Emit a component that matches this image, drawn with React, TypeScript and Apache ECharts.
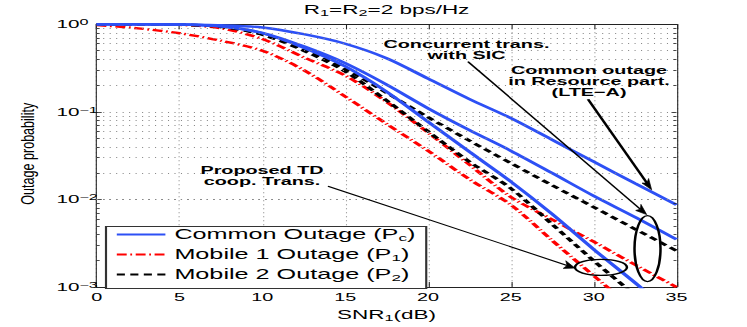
import React, { useEffect, useRef } from 'react';
import * as echarts from 'echarts';

// horizontal stretch of the original figure
const S = 1.8;
const W = 747 / S;
const H = 327;
const FONT = "'Liberation Sans', Arial, Helvetica, sans-serif";

// ---------- data ----------
const snr = [0, 2.5, 5, 7.5, 10, 12.5, 15, 17.5, 20, 22.5, 25, 27.5, 30, 32.5, 35];
const commonResourcePart = [1, 0.999, 0.995, 0.975, 0.92, 0.77, 0.6, 0.41, 0.24, 0.14, 0.085, 0.048, 0.027, 0.0153, 0.0087];
const commonSIC = [1, 1, 0.995, 0.95, 0.8, 0.56, 0.36, 0.205, 0.11, 0.062, 0.036, 0.02, 0.011, 0.0063, 0.0035];
const commonTD = [1, 1, 0.995, 0.95, 0.79, 0.54, 0.33, 0.17, 0.077, 0.035, 0.016, 0.0068, 0.0027, 0.00112, 0.00045];
const mobile1SIC = [1, 0.998, 0.985, 0.9, 0.68, 0.42, 0.26, 0.13, 0.058, 0.025, 0.0107, 0.0059, 0.0033, 0.0018, 0.001];
const mobile1TD = [0.98, 0.9, 0.79, 0.65, 0.5, 0.3, 0.15, 0.073, 0.036, 0.017, 0.0087, 0.0034, 0.00135, 0.00054, 0.0002];
const mobile2SIC = [1, 1, 0.99, 0.94, 0.77, 0.52, 0.31, 0.165, 0.087, 0.047, 0.026, 0.0145, 0.0082, 0.0046, 0.0026];
const mobile2TD = [1, 1, 0.99, 0.94, 0.76, 0.5, 0.29, 0.135, 0.06, 0.027, 0.0134, 0.0052, 0.002, 0.0008, 0.0003];

const legendNames = ['Common Outage (Pc)', 'Mobile 1 Outage (P1)', 'Mobile 2 Outage (P2)'];
const decades = [0.001, 0.01, 0.1];
const minorMultipliers = [2, 3, 4, 5, 6, 7, 8, 9];

// annotations (anchored in data space: [SNR dB, probability])
const annotationTexts = [
  { lines: ['Concurrent trans.', 'with SIC'], at: [22.32, 0.519] },
  { lines: ['Common outage', 'in Resource part.', '(LTE\u2212A)'], at: [29.72, 0.223] },
  { lines: ['Proposed TD', 'coop. Trans.'], at: [9.98, 0.0186] },
];
const annotationArrows = [
  { from: [22.41, 0.375], to: [33.2, 0.00673], width: 1.1 },
  { from: [29.66, 0.1397], to: [33.5, 0.0129], width: 1.6 },
  { from: [13.96, 0.01418], to: [28.87, 0.00165], width: 1.0 },
];
const annotationEllipses = [
  { at: [33.25, 0.00275], rx: 13, ry: 33 },
  { at: [30.44, 0.00168], rx: 26, ry: 8 },
];

// ---------- styles ----------
const BLUE = '#2d50f5';
const RED = '#ff0000';
const BLACK = '#000000';
const DASH: number[] = [4.5, 3];
const DASHDOT: number[] = [5.5, 2, 1, 2];

const GL = 96.7 / S;
const GR = 676.5 / S;
const GT = 24.3;
const GB = 290;

function mk(name: string, data: number[], color: string, type: any, width: number) {
  return {
    type: 'line',
    name,
    data: snr.map((x, i) => [x, data[i]]),
    showSymbol: false,
    symbol: 'none',
    smooth: 0.3,
    clip: true,
    lineStyle: { color, width, type },
    itemStyle: { color },
  };
}

function legendFormatter(name: string) {
  const m = name.match(/^(.*\(P)(.)\)$/);
  if (!m) return name;
  return `{t|${m[1]}}{s|${m[2]}}{t|)}`;
}

function buildMarkLines() {
  const data: any[] = [];
  const gridStyle = { type: [0.6, 3], color: '#8a8a8a', width: 0.8 };
  const tickStyle = { type: 'solid', color: '#222', width: 0.8 };
  decades.forEach((d) => {
    minorMultipliers.forEach((k) => {
      const v = d * k;
      data.push({ yAxis: v, lineStyle: gridStyle });
      data.push([{ coord: [0, v], lineStyle: tickStyle }, { coord: [0.18, v] }]);
      data.push([{ coord: [34.82, v], lineStyle: tickStyle }, { coord: [35, v] }]);
    });
  });
  return {
    silent: true,
    symbol: ['none', 'none'],
    label: { show: false },
    emphasis: { disabled: true },
    animation: false,
    data,
  };
}

function buildOption() {
  const s1: any = mk(legendNames[1], mobile1TD, RED, DASHDOT, 2.4);
  s1.markLine = buildMarkLines();
  return {
    animation: false,
    textStyle: { fontFamily: FONT },
    grid: { left: GL, right: W - GR, top: GT, bottom: H - GB, containLabel: false },
    legend: {
      data: legendNames,
      orient: 'vertical',
      left: 106 / S,
      top: 226.5,
      itemWidth: 27,
      itemHeight: 14,
      itemGap: 5,
      padding: [1, 6, 6, 5],
      backgroundColor: '#fff',
      borderColor: '#333',
      borderWidth: 1.2,
      borderRadius: 0,
      selectedMode: false,
      itemStyle: { opacity: 0 },
      formatter: legendFormatter,
      textStyle: {
        color: '#000',
        fontSize: 14,
        fontFamily: FONT,
        rich: {
          t: { fontSize: 14, lineHeight: 16, fontFamily: FONT, color: '#000' },
          s: { fontSize: 9.5, lineHeight: 8, verticalAlign: 'bottom', fontFamily: FONT, color: '#000' },
        },
      },
    },
    xAxis: [
      {
        type: 'value',
        min: 0,
        max: 35,
        interval: 5,
        position: 'bottom',
        name: '{a|SNR}{s|1}{a|(dB)}',
        nameLocation: 'middle',
        nameGap: 14,
        nameTextStyle: {
          rich: {
            a: { fontSize: 12.5, lineHeight: 15, color: '#000', fontFamily: FONT },
            s: { fontSize: 9, lineHeight: 7, verticalAlign: 'bottom', color: '#000', fontFamily: FONT },
          },
        },
        axisLine: { show: true, onZero: false, lineStyle: { color: '#222', width: 1 } },
        axisTick: { show: true, inside: true, length: 5, lineStyle: { color: '#222', width: 0.6 } },
        axisLabel: { show: true, margin: 5, fontSize: 11, color: '#000', fontFamily: FONT },
        splitLine: { show: true, lineStyle: { type: [1, 3], color: '#8a8a8a', width: 0.6 } },
      },
      {
        type: 'value',
        min: 0,
        max: 35,
        interval: 5,
        position: 'top',
        axisLine: { show: true, onZero: false, lineStyle: { color: '#222', width: 1 } },
        axisTick: { show: true, inside: true, length: 5, lineStyle: { color: '#222', width: 0.6 } },
        axisLabel: { show: false },
        splitLine: { show: false },
      },
    ],
    yAxis: [
      {
        type: 'log',
        logBase: 10,
        min: 0.001,
        max: 1,
        position: 'left',
        axisLine: { show: true, onZero: false, lineStyle: { color: '#222', width: 0.6 } },
        axisTick: { show: true, inside: true, length: 2.8, lineStyle: { color: '#222', width: 0.8 } },
        axisLabel: {
          show: true,
          align: 'left',
          margin: 22.4,
          formatter: (v: number) => {
            const e = Math.round(Math.log10(v));
            const es = e === 0 ? '0' : '\u2212' + String(-e);
            return `{b|10}{e|${es}}`;
          },
          rich: {
            b: { fontSize: 11.5, lineHeight: 14, color: '#000', fontFamily: FONT },
            e: { fontSize: 9, lineHeight: 7.4, verticalAlign: 'top', color: '#000', fontFamily: FONT },
          },
        },
        splitLine: { show: true, lineStyle: { type: [0.6, 3], color: '#8a8a8a', width: 0.8 } },
      },
      {
        type: 'log',
        logBase: 10,
        min: 0.001,
        max: 1,
        position: 'right',
        axisLine: { show: true, onZero: false, lineStyle: { color: '#222', width: 0.6 } },
        axisTick: { show: true, inside: true, length: 2.8, lineStyle: { color: '#222', width: 0.8 } },
        axisLabel: { show: false },
        splitLine: { show: false },
      },
    ],
    series: [
      s1,
      mk(legendNames[1], mobile1SIC, RED, DASHDOT, 2.4),
      mk(legendNames[2], mobile2TD, BLACK, DASH, 2.5),
      mk(legendNames[2], mobile2SIC, BLACK, DASH, 2.5),
      mk(legendNames[0], commonTD, BLUE, 'solid', 2.4),
      mk(legendNames[0], commonSIC, BLUE, 'solid', 2.4),
      mk(legendNames[0], commonResourcePart, BLUE, 'solid', 2.4),
    ],
  };
}

export default function App() {
  const ref = useRef<HTMLDivElement>(null);
  useEffect(() => {
    if (!ref.current) return;
    const chart = echarts.init(ref.current, null, { renderer: 'svg' });
    chart.setOption(buildOption() as any);

    const P = (pt: number[]) => chart.convertToPixel({ xAxisIndex: 0, yAxisIndex: 0 }, pt) as number[];
    const elements: any[] = [];

    // title
    const tl = P([17.5, 1]);
    elements.push({
      type: 'text',
      x: tl[0],
      y: 9.5,
      style: {
        text: '{a|R}{s|1}{a|=R}{s|2}{a|=2 bps/Hz}',
        align: 'center',
        verticalAlign: 'middle',
        rich: {
          a: { fontSize: 12.5, lineHeight: 15, fill: '#000', fontFamily: FONT },
          s: { fontSize: 9, lineHeight: 7, verticalAlign: 'bottom', fill: '#000', fontFamily: FONT },
        },
      },
    });

    // y axis name (counter-scaled so that the stretch does not widen its glyphs too much)
    const ym = P([0, 0.0316]);
    elements.push({
      type: 'text',
      x: 27.5 / S,
      y: ym[1] - 2,
      rotation: Math.PI / 2,
      scaleX: 0.93,
      scaleY: 1.3 / S,
      style: {
        text: 'Outage probability',
        fontSize: 13.5,
        fontFamily: FONT,
        fill: '#000',
        align: 'center',
        verticalAlign: 'middle',
      },
    });

    annotationTexts.forEach((a) => {
      const p = P(a.at);
      elements.push({
        type: 'text',
        x: p[0],
        y: p[1],
        z: 10,
        style: {
          text: a.lines.join('\n'),
          fontSize: 11,
          fontWeight: 'bold',
          fontFamily: FONT,
          fill: '#000',
          align: 'center',
          verticalAlign: 'middle',
          lineHeight: 11,
        },
      });
    });

    annotationArrows.forEach((ar) => {
      const a0 = P(ar.from);
      const b0 = P(ar.to);
      const a = [a0[0] * S, a0[1]];
      const b = [b0[0] * S, b0[1]];
      const dx = b[0] - a[0];
      const dy = b[1] - a[1];
      const L = Math.hypot(dx, dy);
      const ux = dx / L;
      const uy = dy / L;
      const hl = 11;
      const hw = 4;
      const base = [b[0] - ux * hl, b[1] - uy * hl];
      const notch = [b[0] - ux * hl * 0.75, b[1] - uy * hl * 0.75];
      const left = [base[0] - uy * hw, base[1] + ux * hw];
      const right = [base[0] + uy * hw, base[1] - ux * hw];
      const c = (q: number[]) => [q[0] / S, q[1]];
      elements.push({
        type: 'line',
        z: 10,
        shape: { x1: a0[0], y1: a0[1], x2: notch[0] / S, y2: notch[1] },
        style: { stroke: '#000', lineWidth: ar.width },
      });
      elements.push({
        type: 'polygon',
        z: 10,
        shape: { points: [c(b), c(left), c(notch), c(right)] },
        style: { fill: '#000', stroke: '#000', lineWidth: 0.5 },
      });
    });

    annotationEllipses.forEach((e) => {
      const p = P(e.at);
      elements.push({
        type: 'ellipse',
        z: 10,
        shape: { cx: p[0], cy: p[1], rx: e.rx / S, ry: e.ry },
        style: { fill: 'none', stroke: '#000', lineWidth: 1.4 },
      });
    });

    chart.setOption({ graphic: { elements } } as any);
    return () => chart.dispose();
  }, []);

  return (
    <div
      ref={ref}
      style={{
        position: 'absolute',
        left: 0,
        top: 0,
        width: W,
        height: H,
        transform: `scaleX(${S})`,
        transformOrigin: '0 0',
        background: '#fff',
      }}
    />
  );
}
